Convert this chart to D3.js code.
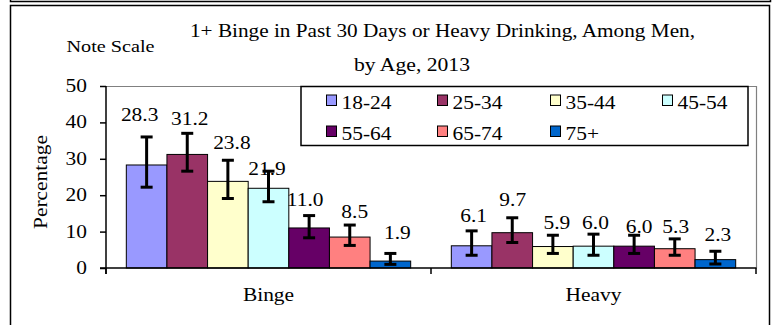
<!DOCTYPE html>
<html>
<head>
<meta charset="utf-8">
<script src="https://cdn.jsdelivr.net/npm/d3@7"></script>
<style>
  html, body { margin: 0; padding: 0; background: #fff; }
  svg { display: block; }
</style>
</head>
<body>
<svg id="chart" width="773" height="325" font-family="Liberation Serif" style="font-family: 'Liberation Serif', 'DejaVu Serif', serif;"></svg>
<script>
// Drinking measures and age groups
const categories = ["Binge", "Heavy"];
const ageGroups = ["18-24", "25-34", "35-44", "45-54", "55-64", "65-74", "75+"];

// Percentages per age group
const bingeValues = [28.3, 31.2, 23.8, 21.9, 11.0, 8.5, 1.9];
const heavyValues = [6.1, 9.7, 5.9, 6.0, 6.0, 5.3, 2.3];

// Confidence interval limits
const bingeLow  = [22.2, 26.6, 19.1, 18.2, 8.3, 6.2, 1.0];
const bingeHigh = [36.0, 37.0, 29.6, 26.6, 14.4, 11.8, 4.0];
const heavyLow  = [3.5, 7.0, 4.0, 3.5, 4.0, 3.5, 1.1];
const heavyHigh = [10.2, 13.8, 9.0, 9.3, 9.0, 8.0, 4.6];

const yTicks = [0, 10, 20, 30, 40, 50];

const ageColors = ["#9999FF", "#993366", "#FFFFCC", "#CCFFFF", "#660066", "#FF8080", "#0066CC"];

// Hand placement of value labels relative to the top of each error bar (px)
const labelNudge = {
  Binge: [[-7, -5.5], [2.5, 1.5], [4, -1], [-1.5, 14], [-4, 0], [5, 3], [7, -4.4]],
  Heavy: [[2, 1], [0.5, -2], [4, 4], [2, 5], [5, 7.5], [1, 4], [2.5, 0]]
};

const rows = categories.map((c, ci) => {
  const vals = ci === 0 ? bingeValues : heavyValues;
  const lo = ci === 0 ? bingeLow : heavyLow;
  const hi = ci === 0 ? bingeHigh : heavyHigh;
  return ageGroups.map((g, gi) => ({
    category: c, group: g, gi, value: vals[gi], low: lo[gi], high: hi[gi]
  }));
}).flat();

const svg = d3.select("#chart");
const FONT = "'Liberation Serif', 'DejaVu Serif', serif";
const SX = 1.19;            // horizontal stretch of the serif lettering
const FS = 18;

function stretchedText(parent, x, y, str, opts = {}) {
  return parent.append("text")
    .attr("transform", `translate(${x},${y})${opts.rotate ? ` rotate(${opts.rotate})` : ""} scale(${SX},1)`)
    .attr("text-anchor", opts.anchor || "middle")
    .attr("font-family", FONT)
    .attr("font-size", opts.size || FS)
    .attr("fill", "#000")
    .text(str);
}

function fittedText(x, y, str, size, len) {
  return svg.append("text").attr("x", x).attr("y", y)
    .attr("font-family", FONT).attr("font-size", size).attr("fill", "#000")
    .attr("textLength", len).attr("lengthAdjust", "spacingAndGlyphs")
    .text(str);
}

// Frame lines
svg.append("path")
  .attr("d", "M10.5,0 V1.5 H770.5 V0")
  .attr("fill", "none").attr("stroke", "#000").attr("stroke-width", 1.5);
svg.append("rect")
  .attr("x", 10.5).attr("y", 5.5).attr("width", 759).attr("height", 340)
  .attr("fill", "none").attr("stroke", "#000").attr("stroke-width", 1.5);

// Titles
fittedText(190, 37, "1+ Binge in Past 30 Days or Heavy Drinking, Among Men,", 19, 505);
fittedText(354, 71, "by Age, 2013", 19, 116);
fittedText(66.5, 52, "Note Scale", 17, 88);

// Scales
const plot = { left: 106, right: 756, top: 86, bottom: 268 };
const x = d3.scaleBand().domain(categories).range([plot.left, plot.right]);
// clusters leave a gap of one bar width, split on either side
const inner = d3.scaleBand().domain(ageGroups)
  .range([x.bandwidth() / 16, x.bandwidth() * 15 / 16]).padding(0);
const y = d3.scaleLinear().domain([0, 50]).range([plot.bottom, plot.top]);

// Plot area border (grey top and right)
svg.append("path")
  .attr("d", `M${plot.left},${plot.top + 0.5} H${plot.right + 0.5} V${plot.bottom}`)
  .attr("fill", "none").attr("stroke", "#808080").attr("stroke-width", 1.2);

// Bars
const g = svg.append("g");
g.selectAll("rect.bar").data(rows).join("rect")
  .attr("class", "bar")
  .attr("x", d => x(d.category) + inner(d.group))
  .attr("y", d => y(d.value))
  .attr("width", inner.bandwidth())
  .attr("height", d => y(0) - y(d.value))
  .attr("fill", d => ageColors[d.gi])
  .attr("stroke", "#000").attr("stroke-width", 1);

// Error bars
const cx = d => x(d.category) + inner(d.group) + inner.bandwidth() / 2;
const eb = g.selectAll("g.err").data(rows).join("g").attr("class", "err")
  .attr("stroke", "#000").attr("stroke-width", 3);
eb.append("line").attr("x1", cx).attr("x2", cx).attr("y1", d => y(d.low)).attr("y2", d => y(d.high));
eb.append("line").attr("x1", d => cx(d) - 6).attr("x2", d => cx(d) + 6).attr("y1", d => y(d.low)).attr("y2", d => y(d.low));
eb.append("line").attr("x1", d => cx(d) - 6).attr("x2", d => cx(d) + 6).attr("y1", d => y(d.high)).attr("y2", d => y(d.high));

// Value labels
rows.forEach(d => {
  const n = labelNudge[d.category][d.gi];
  stretchedText(svg, cx(d) + n[0], y(d.high) - 16 + n[1] + 6, d.value.toFixed(1));
});

// Axes
const yAxis = svg.append("g").attr("transform", `translate(${plot.left},0)`)
  .call(d3.axisLeft(y).tickValues(yTicks).tickSize(6).tickFormat(""));
yAxis.select(".domain").remove();
yAxis.selectAll("line").attr("stroke", "#000").attr("stroke-width", 1.5);
yTicks.forEach(v => stretchedText(svg, 87, y(v) + 6, String(v), { anchor: "end" }));

svg.append("line").attr("x1", plot.left).attr("x2", plot.left)
  .attr("y1", plot.top).attr("y2", plot.bottom + 6)
  .attr("stroke", "#000").attr("stroke-width", 1.5);
svg.append("line").attr("x1", plot.left - 6).attr("x2", plot.right + 0.5)
  .attr("y1", plot.bottom).attr("y2", plot.bottom)
  .attr("stroke", "#000").attr("stroke-width", 1.5);
// category boundary ticks
const bounds = [plot.left, x("Heavy"), plot.right];
svg.selectAll("line.ctick").data(bounds).join("line").attr("class", "ctick")
  .attr("x1", d => d).attr("x2", d => d)
  .attr("y1", plot.bottom).attr("y2", plot.bottom + 6)
  .attr("stroke", "#000").attr("stroke-width", 1.5);

categories.forEach(c => stretchedText(svg, x(c) + x.bandwidth() / 2, 301, c));

stretchedText(svg, 47, 182, "Percentage", { rotate: -90 });

// Legend
const lg = svg.append("g");
lg.append("rect").attr("x", 301).attr("y", 86.5).attr("width", 447).attr("height", 59)
  .attr("fill", "#fff").attr("stroke", "#000").attr("stroke-width", 1.5);
const legCols = [326.5, 437.5, 550.5, 662.5];
const legRows = [95, 126];
ageGroups.forEach((a, i) => {
  const lx = legCols[i % 4], ly = legRows[Math.floor(i / 4)];
  lg.append("rect").attr("x", lx).attr("y", ly).attr("width", 10).attr("height", 10.5)
    .attr("fill", ageColors[i]).attr("stroke", "#000").attr("stroke-width", 1);
  stretchedText(lg, lx + 15, ly + 13.5, a, { anchor: "start" });
});
</script>
</body>
</html>
